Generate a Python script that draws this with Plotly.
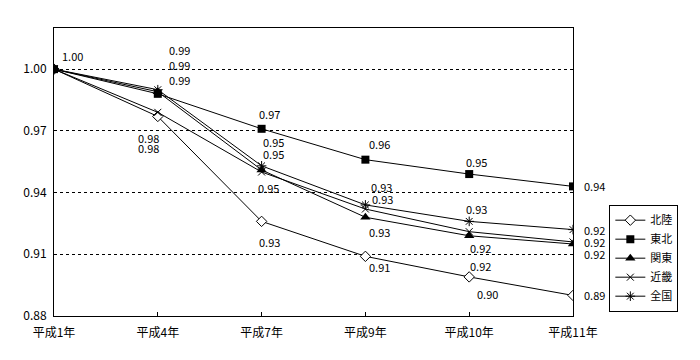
import plotly.graph_objects as go

categories = ["平成1年", "平成4年", "平成7年", "平成9年", "平成10年", "平成11年"]
hokuriku = [1.000, 0.977, 0.926, 0.909, 0.899, 0.890]
tohoku = [1.000, 0.988, 0.971, 0.956, 0.949, 0.943]
kanto = [1.000, 0.989, 0.951, 0.928, 0.919, 0.915]
kinki = [1.000, 0.979, 0.950, 0.932, 0.921, 0.916]
zenkoku = [1.000, 0.990, 0.953, 0.934, 0.926, 0.922]
y_ticks = [0.88, 0.91, 0.94, 0.97, 1.00]

series = [
    ("北陸", hokuriku),
    ("東北", tohoku),
    ("関東", kanto),
    ("近畿", kinki),
    ("全国", zenkoku),
]

marker_styles = {
    "北陸": dict(symbol="diamond", size=8, color="white", line=dict(color="black", width=1)),
    "東北": dict(symbol="square", size=8, color="black", line=dict(color="black", width=0)),
    "関東": dict(symbol="triangle-up", size=9, color="black", line=dict(color="black", width=0)),
    "近畿": dict(symbol="x-thin", size=7, color="black", line=dict(color="black", width=1)),
    "全国": dict(symbol="asterisk", size=8, color="black", line=dict(color="black", width=1)),
}

# label offsets in pixels (dx right, dy down); None = no label
label_offsets = {
    "北陸": [None, (-9, 32), (8, 21), (14, 11), (18, 17), (21, 0)],
    "東北": [(18, -13), (22, -14), (8, -15), (14, -16), (7, -12), (21, 0)],
    "関東": [None, (22, -27), (12, -16), (14, 15), (11, 12), (21, 10)],
    "近畿": [None, (-9, 26), (7, 16), (17, -10), (11, 34), (21, 0)],
    "全国": [None, (22, -40), (12, -24), (16, -18), (7, -12), (21, 0)],
}

FONT = "Noto Sans CJK JP"

fig = go.Figure()
for name, vals in series:
    fig.add_trace(go.Scatter(
        x=categories, y=vals, name=name, mode="lines+markers",
        line=dict(color="black", width=1),
        marker=marker_styles[name],
    ))

annotations = []
for name, vals in series:
    for i, (cat, v) in enumerate(zip(categories, vals)):
        off = label_offsets[name][i]
        if off is None:
            continue
        annotations.append(dict(
            x=cat, y=v, xref="x", yref="y", text=f"{v:.2f}", showarrow=False,
            xshift=off[0], yshift=-off[1],
            font=dict(family=FONT, size=11, color="black"),
        ))

fig.update_layout(
    width=692, height=352,
    margin=dict(l=46, r=127, t=20, b=44),
    paper_bgcolor="white", plot_bgcolor="white",
    font=dict(family=FONT, size=12, color="black"),
    showlegend=True,
    legend=dict(
        x=1.07, y=0.015, xanchor="left", yanchor="bottom",
        bordercolor="black", borderwidth=1, bgcolor="white",
        font=dict(family=FONT, size=11, color="black"),
        tracegroupgap=0, itemwidth=30,
    ),
    annotations=annotations,
)
fig.update_xaxes(
    type="category", range=[0, 5],
    showgrid=False, zeroline=False,
    showline=True, linecolor="black", linewidth=1, mirror=True,
    ticks="inside", ticklen=4, tickcolor="black", ticklabelstandoff=6,
    tickfont=dict(family=FONT, size=12, color="black"),
)
fig.update_yaxes(
    range=[0.88, 1.02], tickvals=y_ticks, ticktext=[f"{t:.2f}" for t in y_ticks],
    showgrid=True, gridcolor="black", griddash="dot", gridwidth=1,
    zeroline=False,
    showline=True, linecolor="black", linewidth=1, mirror=True,
    ticks="", ticklen=0, ticklabelstandoff=4,
    tickfont=dict(family=FONT, size=12, color="black"),
)

fig.write_html("out.html")
